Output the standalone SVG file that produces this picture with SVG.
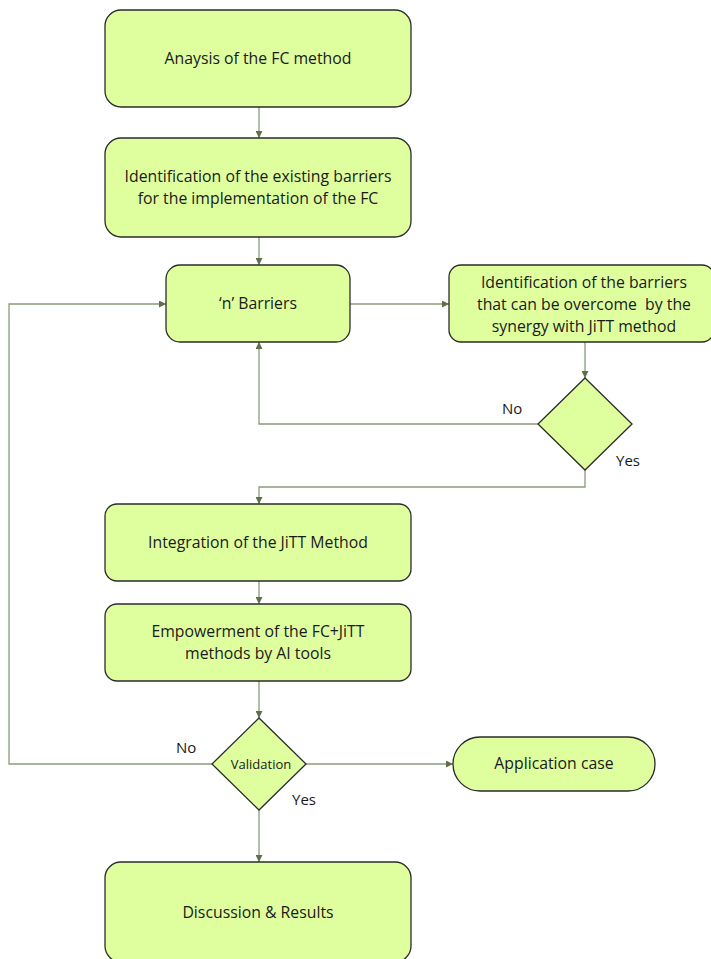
<svg xmlns="http://www.w3.org/2000/svg" width="711" height="959" viewBox="0 0 711 959">
<defs>
<marker id="ah" viewBox="0 0 10 10" refX="10" refY="5" markerWidth="7" markerHeight="7" markerUnits="userSpaceOnUse" orient="auto">
<path d="M0,0 L10,5 L0,10 z" fill="#5f6f4a"/>
</marker>
<style>
.n{fill:#dfff9f;stroke:#2b2b2b;stroke-width:1.3}
.t{font-family:"Open Sans","Liberation Sans",sans-serif;font-size:15.8px;fill:#1a1a1a;text-anchor:middle;white-space:pre}
.c{fill:none;stroke:#8c9a7c;stroke-width:1.3;marker-end:url(#ah)}
.l{font-family:"Open Sans","Liberation Sans",sans-serif;font-size:15px;fill:#1a1a1a}
</style>
</defs>
<rect width="711" height="959" fill="#ffffff"/>
<g id="connectors">
<path class="c" d="M259,107 V138"/>
<path class="c" d="M259,237 V265"/>
<path class="c" d="M350,304 H449"/>
<path class="c" d="M585,342 V378"/>
<path class="c" d="M538,424 H259 V342"/>
<path class="c" d="M585,470 V487 H259 V504"/>
<path class="c" d="M259,581 V604"/>
<path class="c" d="M259,681 V718"/>
<path class="c" d="M212,764 H9 V304 H166"/>
<path class="c" d="M306,764 H453"/>
<path class="c" d="M259,810 V862"/>
<text class="l" x="502" y="414">No</text>
<text class="l" x="616" y="466">Yes</text>
<text class="l" x="176" y="753">No</text>
<text class="l" x="292" y="805">Yes</text>
</g>
<g id="analysis">
<rect class="n" x="105" y="10" width="306" height="97" rx="16"/>
<text class="t" x="258" y="64">Anaysis of the FC method</text>
</g>
<g id="identification">
<rect class="n" x="105" y="138" width="306" height="99" rx="16"/>
<text class="t" x="258" y="182">Identification of the existing barriers</text>
<text class="t" x="258" y="204">for the implementation of the FC</text>
</g>
<g id="barriers">
<rect class="n" x="166" y="265" width="184" height="77" rx="14"/>
<text class="t" x="258" y="309">‘n’ Barriers</text>
</g>
<g id="synergy">
<rect class="n" x="449" y="265" width="265" height="77" rx="12"/>
<text class="t" x="584" y="288">Identification of the barriers</text>
<text class="t" x="584" y="310">that can be overcome  by the</text>
<text class="t" x="584" y="332">synergy with JiTT method</text>
</g>
<g id="decision1">
<polygon class="n" points="585,378 632,424 585,470 538,424"/>
</g>
<g id="integration">
<rect class="n" x="105" y="504" width="306" height="77" rx="12"/>
<text class="t" x="258" y="548">Integration of the JiTT Method</text>
</g>
<g id="empowerment">
<rect class="n" x="105" y="604" width="306" height="77" rx="12"/>
<text class="t" x="258" y="637">Empowerment of the FC+JiTT</text>
<text class="t" x="258" y="659">methods by AI tools</text>
</g>
<g id="validation">
<polygon class="n" points="259,718 306,764 259,810 212,764"/>
<text class="t" x="261" y="769" style="font-size:13px">Validation</text>
</g>
<g id="application">
<rect class="n" x="453" y="737" width="202" height="54" rx="27"/>
<text class="t" x="554" y="769">Application case</text>
</g>
<g id="discussion">
<rect class="n" x="105" y="862" width="306" height="100" rx="16"/>
<text class="t" x="258" y="918">Discussion &amp; Results</text>
</g>
</svg>
